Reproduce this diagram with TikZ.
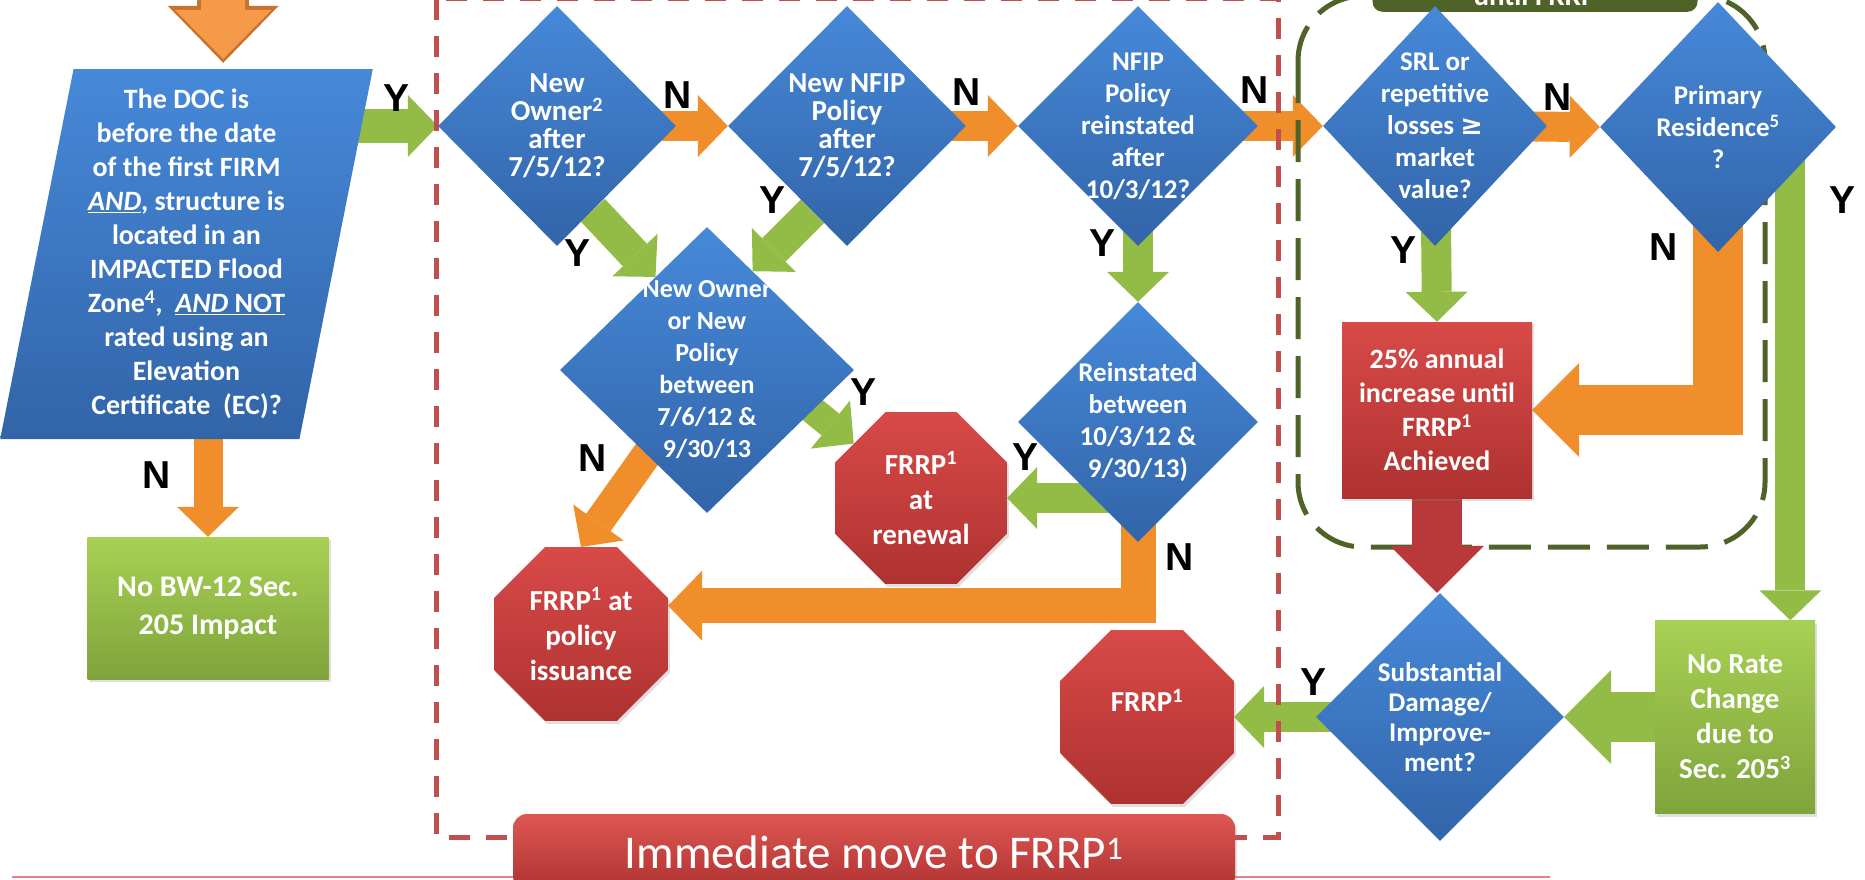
\documentclass[tikz,border=0pt]{standalone}
\usepackage{fontspec}
\setmainfont{Carlito}
\newfontfamily\ynfont{Liberation Sans}
\newfontfamily\dvsfont{DejaVu Sans}
\usepackage{xcolor}
\usetikzlibrary{arrows.meta,positioning,calc,shapes.geometric,backgrounds,shadows}

\definecolor{bluetop}{HTML}{4689D9}
\definecolor{bluebot}{HTML}{3264A8}
\definecolor{redtop}{HTML}{D84A48}
\definecolor{redbot}{HTML}{AE3230}
\definecolor{greentop}{HTML}{A7D153}
\definecolor{greenbot}{HTML}{7FA43C}
\definecolor{olivedark}{HTML}{4F6228}
\definecolor{orarrow}{HTML}{F08E2C}
\definecolor{grarrow}{HTML}{92BC46}
\definecolor{rdarrow}{HTML}{B9393A}
\definecolor{topfill}{HTML}{F59A48}
\definecolor{topedge}{HTML}{C8722E}
\definecolor{dashred}{HTML}{C0504D}
\definecolor{footline}{HTML}{E8827E}
\definecolor{bannertop}{HTML}{DE5753}
\newcommand{\fnote}[1]{\textsuperscript{#1}}

\begin{document}
\begin{tikzpicture}[x=1pt, y=-1pt,
    slanted/.style={trapezium, trapezium left angle=79, trapezium right angle=101, trapezium stretches=true, inner sep=0pt, top color=bluetop, bottom color=bluebot, text=white, align=center, font=\bfseries\fontsize{28}{34}\selectfont},
    question/.style={diamond, inner sep=0pt, top color=bluetop, bottom color=bluebot},
    qtext/.style={text=white, align=center, font=\bfseries\fontsize{27}{32}\selectfont},
    qtight/.style={text=white, align=center, font=\bfseries\fontsize{29}{28}\selectfont},
    stop/.style={regular polygon, regular polygon sides=8, inner sep=0pt, minimum size=186pt, top color=redtop, bottom color=redbot, text=white, align=center, font=\bfseries\fontsize{29}{35}\selectfont, drop shadow={opacity=.25, shadow xshift=2pt, shadow yshift=-3pt}},
    stoptext/.style={text=white, align=center, font=\bfseries\fontsize{29}{35}\selectfont},
    hold/.style={rectangle, inner sep=0pt, top color=redtop, bottom color=redbot, text=white, align=center, font=\bfseries\fontsize{28}{34}\selectfont, drop shadow={opacity=.25, shadow xshift=2pt, shadow yshift=-3pt}},
    result/.style={rectangle, inner sep=0pt, top color=greentop, bottom color=greenbot, text=white, align=center, font=\bfseries\fontsize{29}{35}\selectfont, drop shadow={opacity=.25, shadow xshift=2pt, shadow yshift=-3pt}},
    banner/.style={rectangle, rounded corners=14pt, top color=bannertop, bottom color=redbot, text=white, font=\fontsize{47}{50}\selectfont, drop shadow={opacity=.25, shadow xshift=2pt, shadow yshift=-3pt}},
    yn/.style={font=\ynfont\bfseries\fontsize{39}{39}\selectfont},
    slim/.style={line width=30pt, -{Triangle[length=30pt, width=62pt, line width=0pt 0]}},
    broad/.style={line width=50pt, -{Triangle[length=47pt, width=94pt, line width=0pt 0]}},
    yesline/.style={draw=grarrow},
    noline/.style={draw=orarrow},
    redline/.style={draw=rdarrow}
]
\useasboundingbox (0,0) rectangle (1865,879);

% first test
\node[slanted, minimum width=373pt, minimum height=370pt] (doc) at (186.5,254) {The DOC is\\before the date\\of the first FIRM\\\underline{\textit{AND}}, structure is\\located in an\\IMPACTED Flood\\Zone\fnote{4},\ \ \underline{\textit{AND} NOT}\\rated using an\\Elevation\\Certificate\ \ (EC)?};
\node[result, minimum width=241pt, minimum height=142pt, font=\bfseries\fontsize{30}{38}\selectfont] (nbw) at (208,608) {No BW-12 Sec.\\205 Impact};

% date questions
\node[question, minimum width=238pt, minimum height=240pt, label={[qtight]center:{New\\Owner\fnote{2}\\after\\7/5/12?}}] (own) at (557,126) {};
\node[question, minimum width=238pt, minimum height=240pt, label={[qtight]center:{New NFIP\\Policy\\after\\7/5/12?}}] (pol) at (847,126) {};
\node[question, minimum width=240pt, minimum height=240pt, label={[qtext]center:{NFIP\\Policy\\reinstated\\after\\10/3/12?}}] (rein) at (1138,126) {};
\node[question, minimum width=294pt, minimum height=286pt, label={[qtext, font=\bfseries\fontsize{26}{32}\selectfont]center:{New Owner\\or New\\Policy\\between\\7/6/12 \&\\9/30/13}}] (newb) at (707,370) {};
\node[question, minimum width=240pt, minimum height=240pt, label={[qtext]center:{Reinstated\\between\\10/3/12 \&\\9/30/13)}}] (reb) at (1138,422) {};

% outcomes inside the dashed box
\node[stop] (frA) at (921,498) {FRRP\fnote{1}\\at\\renewal};
\node[stop, minimum size=188pt] (frB) at (581,634) {FRRP\fnote{1} at\\policy\\issuance};
\node[stop, minimum size=188pt, label={[stoptext, yshift=17pt]center:{FRRP\fnote{1}}}] (frC) at (1147,717) {};
\node[banner, minimum width=722pt, minimum height=76pt] (imm) at (874,852) {Immediate move to FRRP\fnote{1}};

% glide path
\node[anchor=south, fill=olivedark, rounded corners=10pt, minimum width=325pt, inner ysep=6pt, text=white, font=\bfseries\fontsize{29}{35}\selectfont] (glide) at (1535,12) {until FRRP};
\node[question, minimum width=224pt, minimum height=240pt, label={[qtext]center:{SRL or\\repetitive\\losses {\dvsfont ≥}\\market\\value?}}] (srl) at (1435,126) {};
\node[question, minimum width=236pt, minimum height=250pt, label={[qtext]center:{Primary\\Residence\fnote{5}\\?}}] (prim) at (1718,127) {};
\node[hold, minimum width=190pt, minimum height=176pt] (red) at (1437,410) {25\% annual\\increase until\\FRRP\fnote{1}\\Achieved};
\node[question, minimum width=248pt, minimum height=248pt, label={[qtext, font=\bfseries\fontsize{27}{30}\selectfont]center:{Substantial\\Damage/\\Improve-\\ment?}}] (sub) at (1440,717) {};
\node[result, minimum width=160pt, minimum height=193pt] (nrc) at (1735,717) {No Rate\\Change\\due to\\Sec. 205\fnote{3}};

% Y / N marks
\node[yn] (y1) at (397,98) {Y};
\node[yn] (n1) at (157,475) {N};
\node[yn] (n2) at (678,95) {N};
\node[yn] (n3) at (967,92) {N};
\node[yn] (n4) at (1255,90) {N};
\node[yn] (n5) at (1558,97) {N};
\node[yn] (y2) at (577,253) {Y};
\node[yn] (y3) at (772,200) {Y};
\node[yn] (y4) at (1102,243) {Y};
\node[yn] (y5) at (863,392) {Y};
\node[yn] (n6) at (593,458) {N};
\node[yn] (y6) at (1025,457) {Y};
\node[yn] (n7) at (1180,557) {N};
\node[yn] (y7) at (1403,250) {Y};
\node[yn] (n8) at (1664,247) {N};
\node[yn] (y8) at (1842,200) {Y};
\node[yn] (y9) at (1313,682) {Y};

\begin{scope}[on background layer]
% arrow coming in from above
\coordinate (entry) at ($(doc.top side)+(0,-80)$);
\draw[line width=52pt, draw=topedge, -{Triangle[length=57pt, width=111pt, line width=0pt 0]}] (entry) -- ($(doc.top side)+(0,-6)$);
\draw[line width=44pt, draw=topfill, -{Triangle[length=49pt, width=97pt, line width=0pt 0]}] (entry) -- ($(doc.top side)+(0,-10)$);

\draw[yesline, slim, line width=34pt] (doc.center |- own.west) -- (own.west);
\draw[noline, slim, line width=29pt] (nbw.north |- doc.center) -- (nbw.north);
\draw[noline, slim] (own.center) -- (pol.west);
\draw[noline, slim] (pol.center) -- (rein.west);
\draw[noline, slim] (rein.center) -- (srl.west);
\draw[noline, slim] (srl.center) -- (prim.west);
\draw[yesline, slim, line width=33pt] ($(own.south)!0.3!(own.east)$) -- ($(newb.north)!0.35!(newb.west)$);
\draw[yesline, slim, line width=33pt] ($(pol.south)!0.29!(pol.west)$) -- ($(newb.north)!0.31!(newb.east)$);
\draw[yesline, slim] (rein.center) -- (reb.north);
\draw[yesline, slim, line width=28pt] ($(newb.center)+(86,24)$) -- (frA.141);
\draw[noline, slim] (newb.center) -- (frB.north);
\draw[yesline, slim] (reb.center |- frA.east) -- (frA.east);
\draw[noline, slim, line width=35pt, -{Triangle[length=34pt, width=70pt, line width=0pt 0]}] (reb.center) |- (frB.18);
\draw[yesline, slim] (srl.center) -- (red.north);
\draw[noline, broad] (prim.center) |- (red.east);
\coordinate (yin) at ($(nrc.north)!0.69!(nrc.north east)$);
\draw[yesline, slim] (yin |- prim.center) -- (yin);
\draw[yesline, broad] (nrc.center) -- (sub.east);
\draw[yesline, slim] (sub.center) -- (frC.east);

% dashed groups
\draw[footline, line width=2pt] (12,877) -- (1550,877);
\draw[dashred, line width=5pt, dash pattern=on 21pt off 16pt] (436,-1.5) rectangle (1278,837);
\draw[olivedark, line width=5pt, dash pattern=on 42pt off 17pt, rounded corners=65pt] (1298,-4) rectangle (1765,547);

\draw[redline, broad] (red.center) -- (red.center |- sub.north);
\end{scope}
\end{tikzpicture}
\end{document}
